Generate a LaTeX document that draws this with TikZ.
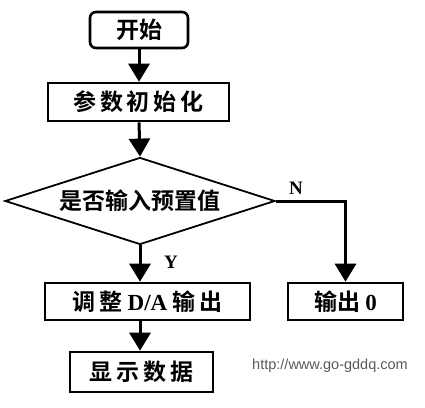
\documentclass[tikz,border=0pt]{standalone}
\usepackage{fontspec}
\setmainfont{Liberation Serif}
\newfontfamily\cjk{Noto Sans CJK SC Bold}
\newfontfamily\latinb{Liberation Serif Bold}
\newfontfamily\urlfont{Liberation Sans}
\usetikzlibrary{arrows.meta,shapes.geometric}
\begin{document}
\begin{tikzpicture}[x=1pt,y=-1pt,
  box/.style={draw, line width=2.6pt, inner sep=0pt, font=\cjk\fontsize{23}{26}\selectfont},
  flow/.style={line width=3pt, -{Triangle[width=21pt,length=18pt]}},
  lbl/.style={font=\latinb\fontsize{19}{22}\selectfont}]
\useasboundingbox (0,0) rectangle (425,407);
\node[box, rounded corners=6pt, minimum width=98pt, minimum height=36pt] (start) at (139,30) {开始};
\node[box, minimum width=181pt, minimum height=38pt] (init) at (138.5,102) {参\,数\,初\,始\,化};
\node[draw, diamond, line width=1.8pt, aspect=3.1, minimum width=270pt, minimum height=87pt, inner sep=0pt, font=\cjk\fontsize{23}{26}\selectfont] (dec) at (140,201) {是否输入预置值};
\node[box, minimum width=205pt, minimum height=37pt] (adj) at (147.5,301.5) {调\,整 {\latinb D/A} 输\,出};
\node[box, minimum width=115pt, minimum height=37pt] (out) at (345.5,301.5) {输出 {\latinb 0}};
\node[box, minimum width=143pt, minimum height=40pt] (disp) at (141.5,372) {显\,示\,数\,据};
\node[font=\urlfont\fontsize{14.5}{16}\selectfont, text=black!65] (url) at (330,366) {http://www.go-gddq.com};
\draw[flow] (start.south) -- (start.south |- init.north);
\draw[flow] (start.south |- init.south) -- (dec.north);
\draw[flow] (dec.south) -- (dec.south |- adj.north);
\draw[flow] (dec.east) -| (out.north);
\draw[flow] (dec.south |- adj.south) -- (dec.south |- disp.north);
\node[lbl] (nlab) at (296,188) {N};
\node[lbl] (ylab) at (171,262) {Y};
\end{tikzpicture}
\end{document}
